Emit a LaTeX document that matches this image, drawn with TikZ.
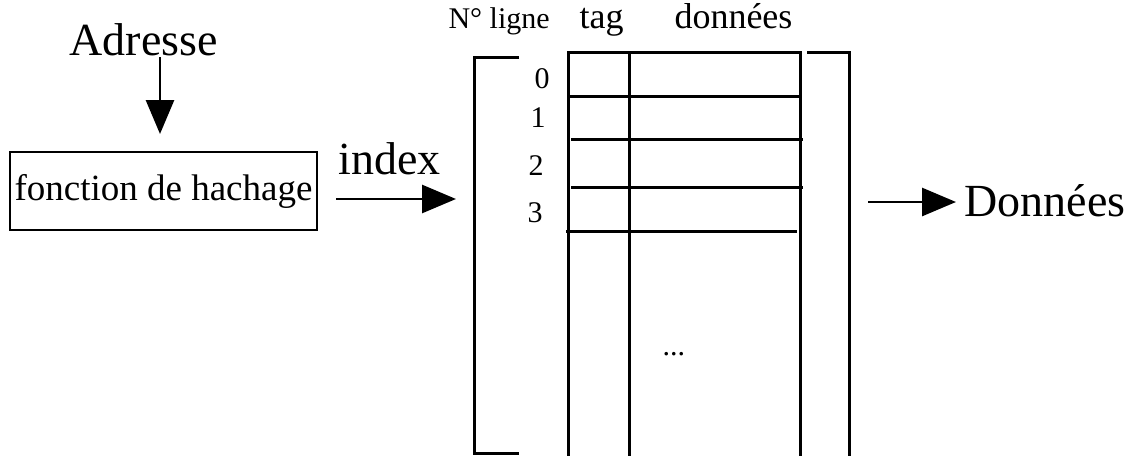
\documentclass[tikz,border=0pt]{standalone}
\usepackage{fontspec}
\setmainfont{Liberation Serif}
\usetikzlibrary{arrows.meta}
\begin{document}
\begin{tikzpicture}[x=1pt,y=-1pt,line width=3pt,
  lbl/.style={inner sep=0pt,anchor=base west},
  big/.style={font=\fontsize{46pt}{50pt}\selectfont},
  mid/.style={font=\fontsize{36pt}{40pt}\selectfont},
  small/.style={font=\fontsize{30pt}{34pt}\selectfont},
  arr/.style={-{Triangle[length=34pt,width=28pt]},line width=2.8pt}]
\useasboundingbox (0,0) rectangle (1137,455);
% texts
\node[lbl,big] (adr) at (68,55) {Adresse};
\node[draw,line width=2.8pt,inner sep=0pt,minimum width=307pt,minimum height=78pt,
      font=\fontsize{37pt}{40pt}\selectfont] (hash) at (163.5,191) {fonction de hachage};
\node[lbl,big] (idx) at (337,174) {index};
\node[lbl,big] (out) at (963,216) {Données};
\node[lbl,small] (hnum) at (447,28) {N° ligne};
\node[lbl,mid] (htag) at (578,28) {tag};
\node[lbl,mid] (hdat) at (673,28) {données};
\node[lbl,small] (r0) at (533,88) {0};
\node[lbl,small] (r1) at (529,127) {1};
\node[lbl,small] (r2) at (527,175) {2};
\node[lbl,small] (r3) at (526,222) {3};
\node[lbl,small] (dots) at (661,355) {...};
% arrows
\coordinate (a1) at (160,57);
\coordinate (a2) at (160,134);
\draw[arr] (a1) -- (a2);
\coordinate (b1) at (336,199);
\coordinate (b2) at (456,199);
\draw[arr] (b1) -- (b2);
\coordinate (c1) at (868,202);
\coordinate (c2) at (956,202);
\draw[arr] (c1) -- (c2);
% left bracket
\draw (519,57) -- (474,57) -- (474,453) -- (519,453);
% table
\draw (568,460) -- (568,52) -- (800,52) -- (800,460);
\draw (629,52) -- (629,460);
\draw (568,96) -- (799,96);
\draw (571,139) -- (803,139);
\draw (571,187) -- (803,187);
\draw (566,231) -- (797,231);
% right bracket
\draw (807,52) -- (849,52) -- (849,460);
\end{tikzpicture}
\end{document}
